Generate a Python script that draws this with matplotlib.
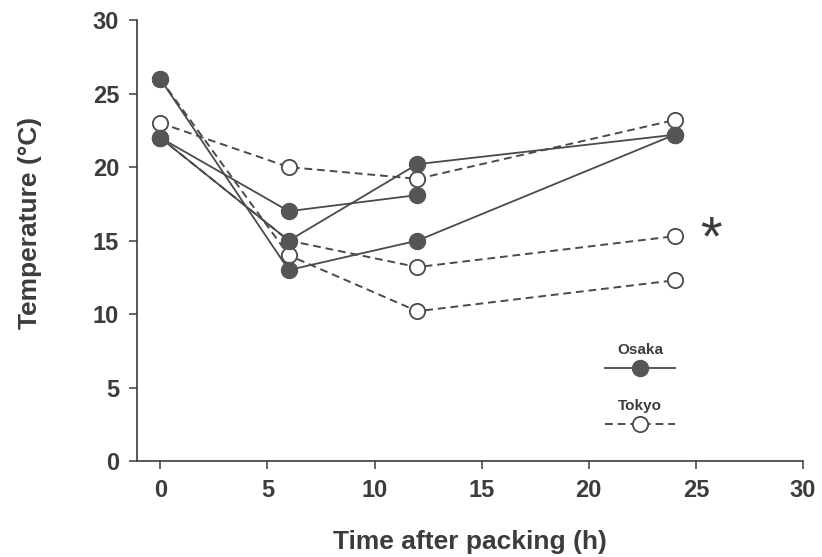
import matplotlib
matplotlib.use("Agg")
import matplotlib.pyplot as plt

plt.rcParams["font.family"] = ["Liberation Sans", "DejaVu Sans"]

# sampling times (h)
hours = [0, 6, 12, 24]

# Osaka runs (solid, filled markers)
osaka_1 = [26, 13, 15, 22.2]
osaka_2 = [22, 17, 18.1]
osaka_3 = [22, 15, 20.2, 22.2]

# Tokyo runs (dashed, open markers)
tokyo_1 = [23, 20, 19.2, 23.2]
tokyo_2 = [22, 15, 13.2, 15.3]
tokyo_3 = [26, 14, 10.2, 12.3]

x_ticks = [0, 5, 10, 15, 20, 25, 30]
y_ticks = [0, 5, 10, 15, 20, 25, 30]

INK = "#3c3c3c"
LINE = "#4a4a4a"

fig = plt.figure(figsize=(8.22, 5.57), dpi=100)
ax = fig.add_axes([0.167, 0.172, 0.810, 0.792])

tokyo_style = dict(color=LINE, lw=1.4, ls=(0, (4, 2.5)), marker="o", ms=11,
                   mfc="white", mec=LINE, mew=1.3)
osaka_style = dict(color=LINE, lw=1.3, ls="-", marker="o", ms=11.5,
                   mfc="#555555", mec="#555555")

for run in (tokyo_1, tokyo_2, tokyo_3):
    t_line, = ax.plot(hours[:len(run)], run, zorder=2, **tokyo_style)
for run in (osaka_1, osaka_2, osaka_3):
    o_line, = ax.plot(hours[:len(run)], run, zorder=3, **osaka_style)

ax.text(25.7, 15.0, "*", fontsize=40, color=INK, ha="center", va="center")

ax.set_xlim(-1.07, 30)
ax.set_ylim(0, 30)
ax.set_xticks(x_ticks)
ax.set_yticks(y_ticks)

for side in ("top", "right"):
    ax.spines[side].set_visible(False)
for side in ("left", "bottom"):
    ax.spines[side].set_color(INK)
    ax.spines[side].set_linewidth(1.2)

ax.tick_params(direction="out", length=6, width=1.1, color=INK,
               labelsize=17, labelcolor=INK, pad=7)
for lbl in ax.get_xticklabels() + ax.get_yticklabels():
    lbl.set_fontweight("bold")

ax.set_xlabel("Time after packing (h)", fontsize=19, fontweight="bold",
              color=INK, labelpad=20)
ax.set_ylabel("Temperature (\u00b0C)", fontsize=19, fontweight="bold",
              color=INK)
ax.yaxis.set_label_coords(-0.143, 0.54)

# legend: two small blocks, name above the line sample
leg_kw = dict(frameon=False, handlelength=5.6, handletextpad=0, borderpad=0,
              fontsize=9, title_fontproperties={"weight": "bold", "size": 11})
leg1 = ax.legend([o_line], [""], title="Osaka", loc="center",
                 bbox_to_anchor=(0.755, 0.231), **leg_kw)
leg2 = ax.legend([t_line], [""], title="Tokyo", loc="center",
                 bbox_to_anchor=(0.755, 0.105), **leg_kw)
ax.add_artist(leg1)
for lg in (leg1, leg2):
    lg.get_title().set_color(INK)

fig.savefig("out.png", dpi=100)
